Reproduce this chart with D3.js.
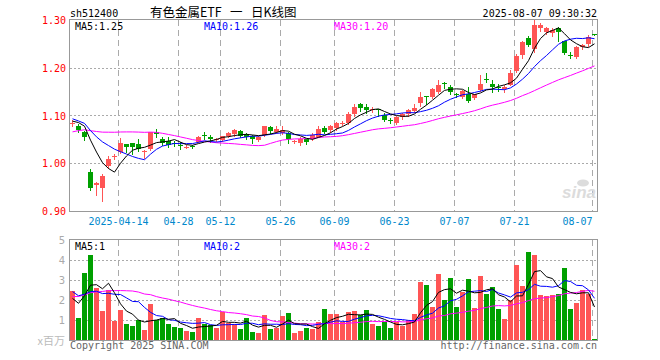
<!DOCTYPE html>
<html>
<head>
<meta charset="utf-8">
<script src="https://cdn.jsdelivr.net/npm/d3@7"></script>
<style>
  body { margin: 0; background: #fff; }
  svg { display: block; }
  text { font-family: "DejaVu Sans Mono", monospace; font-size: 10px; }
</style>
</head>
<body>
<svg id="chart" width="660" height="360"></svg>
<script>
// trading days shown, 2025
var dates = ["04-01","04-02","04-03","04-07","04-08","04-09","04-10","04-11","04-14","04-15",
  "04-16","04-17","04-18","04-21","04-22","04-23","04-24","04-25","04-28","04-29",
  "04-30","05-06","05-07","05-08","05-09","05-12","05-13","05-14","05-15","05-16",
  "05-19","05-20","05-21","05-22","05-23","05-26","05-27","05-28","05-29","05-30",
  "06-03","06-04","06-05","06-06","06-09","06-10","06-11","06-12","06-13","06-16",
  "06-17","06-18","06-19","06-20","06-23","06-24","06-25","06-26","06-27","06-30",
  "07-01","07-02","07-03","07-04","07-07","07-08","07-09","07-10","07-11","07-14",
  "07-15","07-16","07-17","07-18","07-21","07-22","07-23","07-24","07-25","07-28",
  "07-29","07-30","07-31","08-01","08-04","08-05","08-06","08-07"];

var open = [1.082,1.077,1.066,0.981,0.955,0.949,0.995,1.014,1.023,1.040,
  1.042,1.040,1.023,1.030,1.065,1.050,1.046,1.043,1.039,1.034,
  1.036,1.045,1.060,1.055,1.049,1.048,1.057,1.061,1.068,1.061,
  1.058,1.049,1.059,1.075,1.065,1.064,1.064,1.045,1.042,1.050,
  1.050,1.056,1.073,1.070,1.073,1.084,1.084,1.104,1.124,1.117,
  1.111,1.113,1.101,1.091,1.085,1.097,1.103,1.110,1.126,1.141,
  1.139,1.150,1.169,1.159,1.146,1.139,1.146,1.136,1.153,1.177,
  1.167,1.160,1.156,1.164,1.193,1.227,1.263,1.239,1.283,1.275,
  1.272,1.283,1.255,1.226,1.223,1.243,1.249,1.271];

var high = [1.090,1.083,1.067,0.988,0.960,0.977,1.015,1.020,1.052,1.041,
  1.043,1.050,1.028,1.066,1.072,1.055,1.056,1.047,1.044,1.038,
  1.039,1.058,1.066,1.059,1.053,1.058,1.065,1.071,1.069,1.064,
  1.059,1.057,1.079,1.078,1.077,1.079,1.066,1.048,1.054,1.051,
  1.063,1.077,1.077,1.081,1.087,1.088,1.107,1.125,1.127,1.124,
  1.117,1.114,1.105,1.095,1.098,1.106,1.113,1.125,1.150,1.141,
  1.157,1.174,1.170,1.163,1.148,1.153,1.160,1.145,1.185,1.188,
  1.174,1.165,1.163,1.195,1.228,1.255,1.267,1.300,1.293,1.286,
  1.283,1.286,1.256,1.232,1.246,1.250,1.268,1.271];

var low = [1.078,1.066,1.049,0.945,0.934,0.921,0.990,1.009,1.022,1.024,
  1.019,1.025,1.010,1.028,1.056,1.038,1.035,1.037,1.030,1.032,
  1.031,1.044,1.050,1.045,1.046,1.046,1.055,1.058,1.054,1.050,
  1.043,1.047,1.057,1.064,1.063,1.062,1.042,1.043,1.038,1.040,
  1.048,1.055,1.063,1.066,1.070,1.081,1.083,1.098,1.110,1.106,
  1.107,1.098,1.088,1.084,1.083,1.092,1.099,1.108,1.120,1.125,
  1.137,1.148,1.157,1.145,1.138,1.136,1.128,1.134,1.152,1.171,
  1.149,1.152,1.150,1.163,1.192,1.220,1.245,1.234,1.277,1.271,
  1.267,1.256,1.228,1.220,1.221,1.240,1.245,1.269];

var close = [1.085,1.070,1.054,0.949,0.959,0.974,1.009,1.016,1.042,1.035,
  1.034,1.030,1.026,1.065,1.061,1.042,1.038,1.042,1.038,1.035,
  1.035,1.056,1.058,1.050,1.050,1.057,1.063,1.070,1.058,1.055,
  1.050,1.056,1.078,1.067,1.071,1.070,1.050,1.046,1.050,1.045,
  1.059,1.071,1.066,1.078,1.084,1.085,1.104,1.118,1.115,1.112,
  1.113,1.111,1.091,1.089,1.096,1.104,1.112,1.115,1.138,1.140,
  1.155,1.164,1.166,1.150,1.144,1.151,1.130,1.144,1.167,1.176,
  1.160,1.158,1.160,1.188,1.225,1.253,1.248,1.290,1.290,1.284,
  1.279,1.274,1.230,1.225,1.244,1.247,1.265,1.270];

// volume, x 1,000,000
var volume = [2.47,1.12,3.37,4.25,2.62,1.45,2.5,0.97,1.5,0.8,
  0.7,1.0,0.5,1.8,1.0,1.08,0.8,0.67,0.62,0.45,
  0.4,1.1,0.8,0.75,0.62,1.38,0.87,0.8,0.55,1.1,
  0.4,0.37,1.25,0.55,0.62,1.2,1.35,0.37,0.45,0.62,
  0.55,0.9,1.55,1.3,1.3,0.88,1.4,1.45,1.25,1.5,
  0.8,0.7,0.9,0.6,0.9,0.7,1.0,1.3,2.9,2.75,
  1.65,3.3,2.0,3.1,1.65,2.4,3.05,1.6,3.2,2.3,
  2.65,1.55,1.05,2.0,3.75,2.7,4.4,4.25,2.25,2.2,
  2.25,2.3,3.6,1.55,1.85,2.5,2.3,0.05];

// days before 04-01, not drawn, only feed the moving averages (estimated from where the MA lines start)
var histCloses = [0.995,1.000,1.005,1.010,1.015,1.012,1.020,1.025,1.030,1.035,
  1.040,1.042,1.050,1.080,1.100,1.110,1.115,1.120,1.118,1.120,
  1.115,1.105,1.100,1.090,1.080,1.085,1.092,1.095,1.084];
var histVolumes = [0.9,1.1,1.0,1.3,0.8,1.2,1.0,1.4,1.1,1.08,
  2.6,3.4,2.8,3.9,3.2,2.5,3.0,2.7,3.1,2.82,
  3.2,2.6,2.9,2.5,2.6,2.35,1.48,1.6,2.5];

var tickDates = ["04-14","04-28","05-12","05-26","06-09","06-23","07-07","07-21","08-07"];
var tickLabels = ["2025-04-14","04-28","05-12","05-26","06-09","06-23","07-07","07-21","08-07"];
var priceTicks = [0.90, 1.00, 1.10, 1.20, 1.30];
var volTicks = [1, 2, 3, 4, 5];
var maDays = [5, 10, 30];
var maColors = ["#000000", "#0000ff", "#ff00ff"];

var upColor = "#ff5555", downColor = "#00a000";
var gridColor = "#aaaaaa", borderColor = "#999999";

var svg = d3.select("#chart");

var x = d3.scaleBand().domain(dates).range([69, 597]);
var yP = d3.scaleLinear().domain([0.9, 1.3]).range([211, 20]);
var yV = d3.scaleLinear().domain([0, 5]).range([340, 240]);

var px = function(v) { return Math.round(v) + 0.5; };
var cx = function(d) { return x(d) + 3.5; };

function movingAvg(hist, vals, n) {
    var all = hist.concat(vals);
    return vals.map(function(v, i) {
        var end = hist.length + i;
        return d3.mean(all.slice(end - n + 1, end + 1));
    });
}

var rows = dates.map(function(d, i) {
    return {date: d, o: open[i], h: high[i], l: low[i], c: close[i], v: volume[i], up: close[i] >= open[i]};
});

// header
svg.append("text").attr("x", 70).attr("y", 16.5).attr("fill", "#000").text("sh512400");
var title = svg.append("g").attr("fill", "#000")
    .style("font-family", "'Noto Sans CJK SC', sans-serif").style("font-size", "12.5px");
title.append("text").attr("x", 150).attr("y", 17).style("font-family", "inherit").style("font-size", "inherit").text("有色金属ETF");
title.append("text").attr("x", 230).attr("y", 17).style("font-family", "inherit").style("font-size", "inherit").text("一");
title.append("text").attr("x", 251).attr("y", 17).style("font-family", "inherit").style("font-size", "inherit").text("日K线图");
svg.append("text").attr("x", 597).attr("y", 16.5).attr("text-anchor", "end").attr("fill", "#000")
    .text("2025-08-07 09:30:32");

// panels: grid, date lines, borders
function panel(top, bottom, yScale, ticks) {
    var g = svg.append("g");
    g.selectAll(".hg").data(ticks.slice(1, -1)).enter().append("line")
        .attr("x1", 70).attr("x2", 597)
        .attr("y1", function(t) { return px(yScale(t)); })
        .attr("y2", function(t) { return px(yScale(t)); })
        .attr("stroke", gridColor).attr("stroke-dasharray", "2,2");
    g.selectAll(".vg").data(tickDates).enter().append("line")
        .attr("x1", function(d) { return x(d) + 1.5; })
        .attr("x2", function(d) { return x(d) + 1.5; })
        .attr("y1", top).attr("y2", bottom)
        .attr("stroke", gridColor).attr("stroke-dasharray", "6,4");
    g.append("rect").attr("x", 69.5).attr("y", top - 0.5)
        .attr("width", 528).attr("height", bottom - top + 1)
        .attr("fill", "none").attr("stroke", borderColor);
}
panel(20, 211, yP, priceTicks);
panel(240, 340, yV, [0].concat(volTicks));

var defs = svg.append("defs");
defs.append("clipPath").attr("id", "clipP")
    .append("rect").attr("x", 70).attr("y", 20).attr("width", 527).attr("height", 191);
defs.append("clipPath").attr("id", "clipV")
    .append("rect").attr("x", 70).attr("y", 240).attr("width", 527).attr("height", 100);

// sina watermark
var wm = svg.append("g").attr("fill", "#dcdcdc");
wm.append("text").attr("x", 596).attr("y", 198).attr("text-anchor", "end")
    .style("font-family", "'Liberation Sans', sans-serif").style("font-size", "17px")
    .style("font-style", "italic").style("font-weight", "bold").text("sina");
wm.append("ellipse").attr("cx", 583).attr("cy", 183).attr("rx", 6).attr("ry", 3.5);

// price axis labels
svg.selectAll(".pl").data(priceTicks).enter().append("text")
    .attr("x", 66).attr("y", function(t) { return yP(t) + 4; })
    .attr("text-anchor", "end").attr("fill", "#ff0000")
    .text(function(t) { return t.toFixed(2); });

// date labels, the last one kept inside the chart edge
var lastTick = tickDates.length - 1;
svg.selectAll(".dl").data(tickDates).enter().append("text")
    .attr("x", function(d) { return x(d) + 1.5; }).attr("y", 225)
    .attr("text-anchor", function(d, i) { return i === lastTick ? "end" : "middle"; })
    .attr("fill", "#0088cc")
    .text(function(d, i) { return tickLabels[i]; });

// candles
var cg = svg.append("g").attr("clip-path", "url(#clipP)").attr("shape-rendering", "crispEdges");
cg.selectAll(".wick").data(rows).enter().append("line")
    .attr("x1", function(d) { return cx(d.date); })
    .attr("x2", function(d) { return cx(d.date); })
    .attr("y1", function(d) { return Math.round(yP(d.h)); })
    .attr("y2", function(d) { return Math.round(yP(d.l)) + 1; })
    .attr("stroke", function(d) { return d.up ? upColor : downColor; });
cg.selectAll(".body").data(rows).enter().append("rect")
    .attr("x", function(d) { return x(d.date) + 1; })
    .attr("width", 5)
    .attr("y", function(d) { return Math.round(yP(Math.max(d.o, d.c))); })
    .attr("height", function(d) {
        return Math.max(1, Math.round(yP(Math.min(d.o, d.c))) - Math.round(yP(Math.max(d.o, d.c))));
    })
    .attr("fill", function(d) { return d.up ? upColor : downColor; });

// volume bars
var vg = svg.append("g").attr("shape-rendering", "crispEdges");
vg.selectAll(".vol").data(rows).enter().append("rect")
    .attr("x", function(d) { return x(d.date) + 1; })
    .attr("width", 5)
    .attr("y", function(d) { return Math.round(yV(d.v)); })
    .attr("height", function(d) { return Math.max(1, 340 - Math.round(yV(d.v))); })
    .attr("fill", function(d) { return d.up ? upColor : downColor; });

// moving averages
var priceMA = maDays.map(function(n) { return movingAvg(histCloses, close, n); });
var volMA = maDays.map(function(n) { return movingAvg(histVolumes, volume, n); });

function drawMA(series, yScale, clip) {
    var line = d3.line()
        .x(function(v, i) { return cx(dates[i]); })
        .y(function(v) { return yScale(v); });
    // MA30 first so MA5 ends up on top
    for (var k = series.length - 1; k >= 0; k--) {
        svg.append("path").datum(series[k]).attr("d", line)
            .attr("clip-path", clip)
            .attr("fill", "none").attr("stroke", maColors[k]).attr("stroke-width", 1);
    }
}
drawMA(priceMA, yP, "url(#clipP)");
drawMA(volMA, yV, "url(#clipV)");

var labelX = [75, 204, 334];
maDays.forEach(function(n, k) {
    var last = priceMA[k][priceMA[k].length - 1];
    svg.append("text").attr("x", labelX[k]).attr("y", 29.5).attr("fill", maColors[k])
        .text("MA" + n + ":" + last.toFixed(2));
    var lastV = volMA[k][volMA[k].length - 1];
    svg.append("text").attr("x", labelX[k]).attr("y", 250).attr("fill", maColors[k])
        .text("MA" + n + ":" + Math.floor(lastV));
});

// volume axis labels
svg.selectAll(".vl").data(volTicks).enter().append("text")
    .attr("x", 65).attr("y", function(t) { return yV(t) + 4; })
    .attr("text-anchor", "end").attr("fill", "#aaaaaa")
    .style("font-family", "'DejaVu Sans', sans-serif").style("font-size", "10px")
    .text(function(t) { return t; });
svg.append("text").attr("x", 65).attr("y", 345).attr("text-anchor", "end").attr("fill", "#bbbbbb")
    .style("font-family", "'Noto Sans CJK SC', sans-serif").style("font-size", "11px")
    .text("x百万");

// footer
svg.append("text").attr("x", 70).attr("y", 349).attr("fill", "#666").text("Copyright 2025 SINA.COM");
svg.append("text").attr("x", 597).attr("y", 349).attr("text-anchor", "end").attr("fill", "#666")
    .text("http://finance.sina.com.cn");
</script>
</body>
</html>
